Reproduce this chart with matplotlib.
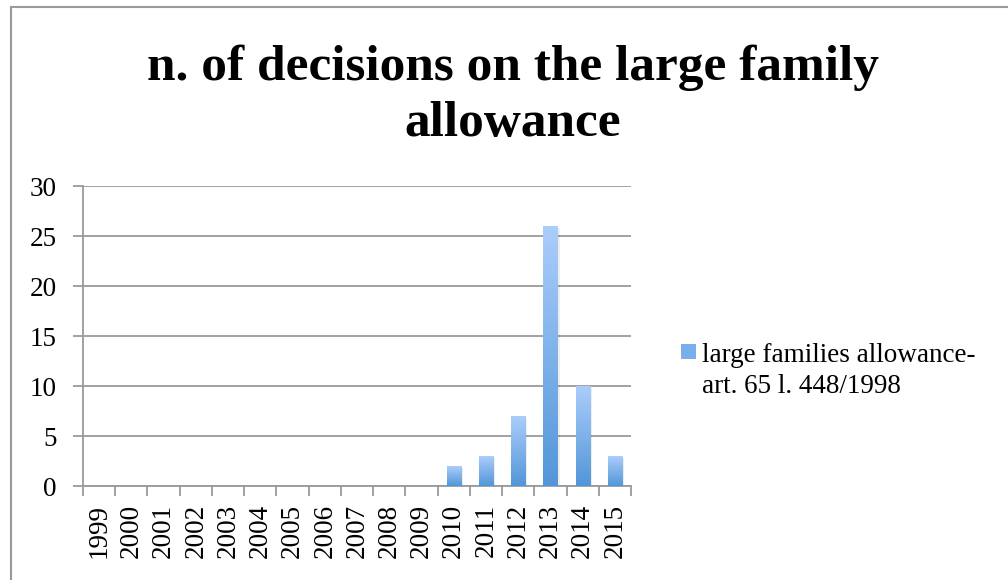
import numpy as np
import matplotlib
matplotlib.use("Agg")
import matplotlib.pyplot as plt
from matplotlib.patches import Rectangle
from matplotlib.colors import LinearSegmentedColormap

years = [str(y) for y in range(1999, 2016)]
values = [0, 0, 0, 0, 0, 0, 0, 0, 0, 0, 0, 2, 3, 7, 26, 10, 3]
series_name = "large families allowance-\nart. 65 l. 448/1998"
title = "n. of decisions on the large family\nallowance"

plt.rcParams['font.family'] = ['Liberation Serif', 'DejaVu Serif']

W, H = 1008, 580
fig = plt.figure(figsize=(W / 100, H / 100), dpi=100)
ax = fig.add_axes([83 / W, 1 - 486 / H, 548 / W, 300 / H])

x = np.arange(len(years))
bars = ax.bar(x, values, width=0.435, color='none', edgecolor='none', zorder=3)

cmap = LinearSegmentedColormap.from_list('g', ['#5296d8', '#abcdfb'])
grad = np.linspace(0, 1, 256).reshape(-1, 1)
for b in bars:
    h = b.get_height()
    if h <= 0:
        continue
    x0 = b.get_x(); w = b.get_width()
    ax.add_patch(Rectangle((x0 + 0.07, 0), w, h - 0.15, facecolor='#000000', alpha=0.07,
                           edgecolor='none', zorder=2))
    im = ax.imshow(grad, extent=[x0, x0 + w, 0, h], origin='lower', aspect='auto',
                   cmap=cmap, zorder=3)
    im.set_clip_path(b)

ax.set_xlim(-0.5, len(years) - 0.5)
ax.set_ylim(0, 30)
ax.set_yticks(range(0, 31, 5))
ax.set_xticks(x)
ax.set_xticklabels(years, rotation=90, fontsize=19.5)
ax.set_xticks(np.arange(-0.5, len(years), 1), minor=True)
ax.tick_params(axis='x', which='major', length=0, pad=13)
ax.tick_params(axis='x', which='minor', length=7, color='#9a9a9a', width=1.3)
ax.tick_params(axis='y', length=7, color='#9a9a9a', width=1.3, labelsize=19.5, pad=12)
ax.yaxis.grid(True, color='#9a9a9a', linewidth=1.3, zorder=0)
ax.set_axisbelow(True)
for s in ['top', 'right']:
    ax.spines[s].set_visible(False)
for s in ['left', 'bottom']:
    ax.spines[s].set_color('#9a9a9a')
    ax.spines[s].set_linewidth(1.3)

# title, line by line
for i, line in enumerate(title.split('\n')):
    fig.text(513 / W, 1 - (80 + 56 * i) / H, line, ha='center', va='baseline',
             fontsize=37, fontweight='bold')

# legend
fig.patches.append(Rectangle((681 / W, 1 - 359 / H), 15 / W, 15 / H,
                             transform=fig.transFigure, facecolor='#78aeea',
                             edgecolor='none'))
for i, line in enumerate(series_name.split('\n')):
    fig.text(702 / W, 1 - (362 + 31 * i) / H, line, ha='left', va='baseline',
             fontsize=19.5)

# outer frame
fig.patches.append(Rectangle((11 / W, -0.01), 1.0, 1 - 6.5 / H + 0.01,
                             transform=fig.transFigure, facecolor='none',
                             edgecolor='#9a9a9a', linewidth=1.5))

fig.savefig('out.png', dpi=100)
